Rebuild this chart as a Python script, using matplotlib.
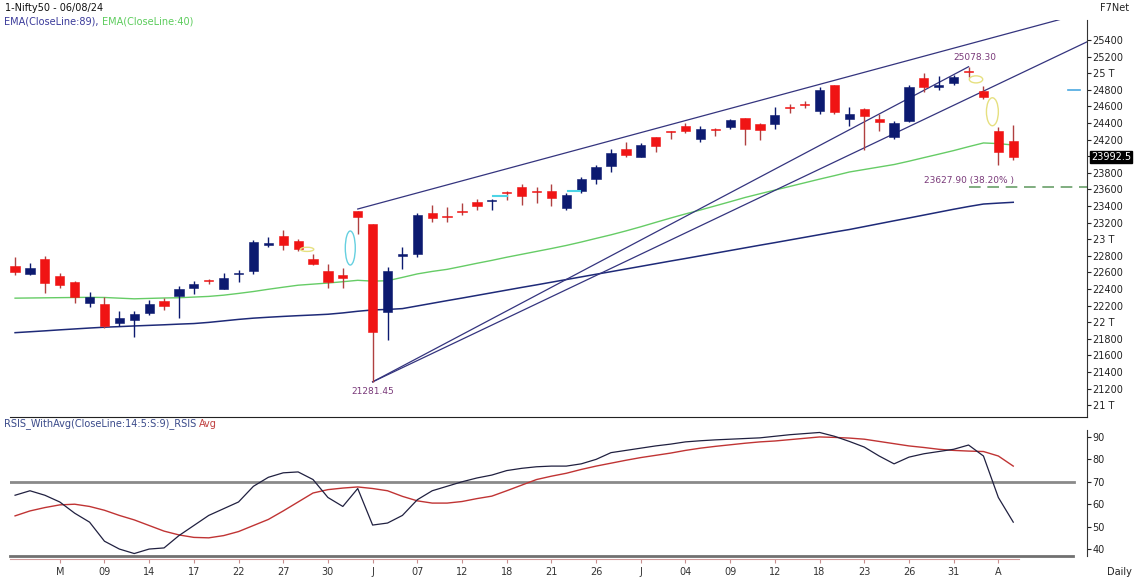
import numpy as np
import matplotlib.pyplot as plt
from matplotlib.patches import Ellipse

# ==========================================
# Data (Nifty50 daily, 30 Apr - 06 Aug 2024)
# ==========================================
opens = [22679, 22579, 22766, 22562, 22489, 22231, 22224, 21990, 22027, 22112,
         22255, 22319, 22415, 22512, 22404, 22576, 22614, 22931, 23039, 22977,
         22762, 22617, 22568, 23337, 23179, 22128, 22798, 22821, 23319, 23283,
         23344, 23453, 23460, 23573, 23629, 23570, 23584, 23382, 23577, 23724,
         23881, 24085, 23992, 24229, 24291, 24370, 24213, 24330, 24351, 24459,
         24388, 24388, 24590, 24616, 24543, 24853, 24446, 24568, 24445, 24231,
         24423, 24943, 24839, 24887, 25030, 24789, 24302, 24189]
highs = [22783, 22711, 22795, 22588, 22499, 22368, 22307, 22131, 22131, 22270,
         22297, 22432, 22502, 22526, 22591, 22629, 22993, 23026, 23110, 22998,
         22825, 22705, 22653, 23338, 23179, 22670, 22910, 23320, 23411, 23389,
         23441, 23481, 23490, 23579, 23664, 23624, 23667, 23558, 23754, 23889,
         24087, 24174, 24164, 24237, 24309, 24401, 24363, 24345, 24443, 24461,
         24402, 24592, 24635, 24661, 24837, 24854, 24595, 24582, 24504, 24426,
         24861, 24999, 24971, 24984, 25078.3, 24851, 24350, 24382]
lows = [22568, 22567, 22348, 22409, 22232, 22185, 21932, 21950, 21821, 22082,
        22151, 22054, 22345, 22462, 22404, 22483, 22577, 22908, 22871, 22858,
        22685, 22417, 22417, 23062, 21281.45, 21791, 22642, 22789, 23207, 23206,
        23295, 23354, 23357, 23473, 23413, 23442, 23398, 23350, 23562, 23670,
        23806, 23985, 23992, 24056, 24207, 24281, 24168, 24240, 24332, 24141,
        24193, 24331, 24523, 24587, 24504, 24508, 24362, 24074, 24307, 24211,
        24410, 24774, 24798, 24856, 24956, 24686, 23893, 23960]
closes = [22604, 22648, 22476, 22443, 22302, 22303, 21958, 22055, 22104, 22217,
          22201, 22403, 22466, 22502, 22529, 22597, 22967, 22957, 22932, 22888,
          22704, 22488, 22531, 23264, 21885, 22620, 22821, 23290, 23259, 23265,
          23323, 23399, 23466, 23558, 23516, 23567, 23501, 23537, 23721, 23868,
          24044, 24010, 24141, 24123, 24286, 24302, 24324, 24321, 24433, 24324,
          24316, 24502, 24587, 24613, 24801, 24531, 24509, 24479, 24413, 24406,
          24834, 24837, 24857, 24951, 25011, 24718, 24056, 23992.5]

ema40 = [22290, 22292, 22294, 22296, 22298, 22300, 22298, 22290, 22282, 22287,
         22292, 22295, 22303, 22311, 22326, 22347, 22370, 22397, 22422, 22446,
         22459, 22472, 22488, 22505, 22495, 22500, 22540, 22582, 22612, 22637,
         22673, 22710, 22745, 22783, 22818, 22853, 22888, 22925, 22966, 23010,
         23053, 23100, 23150, 23203, 23255, 23305, 23352, 23402, 23452, 23503,
         23548, 23592, 23636, 23680, 23724, 23766, 23810, 23840, 23870, 23900,
         23940, 23983, 24025, 24068, 24115, 24160, 24152, 24135]
ema89 = [21874, 21885, 21896, 21908, 21919, 21930, 21940, 21947, 21955, 21962,
         21969, 21977, 21984, 21998, 22016, 22034, 22049, 22060, 22070, 22079,
         22087, 22096, 22112, 22132, 22148, 22154, 22164, 22196, 22228, 22260,
         22291, 22323, 22355, 22387, 22419, 22450, 22482, 22514, 22546, 22578,
         22609, 22641, 22673, 22705, 22737, 22768, 22800, 22832, 22864, 22896,
         22928, 22959, 22991, 23023, 23055, 23087, 23117, 23152, 23187, 23222,
         23256, 23291, 23326, 23361, 23394, 23424, 23435, 23445]

rsi = [64, 66, 64, 61, 56, 52, 43.5, 40, 38, 40,
       40.5, 46, 50.5, 55, 58, 61, 68, 72, 74, 74.4,
       71, 63, 59, 67, 50.7, 51.6, 55, 62, 66, 68,
       70, 71.7, 73, 75, 76, 76.7, 77, 77, 78, 80,
       83, 84, 85, 86, 86.8, 87.8, 88.3, 88.7, 89, 89.3,
       89.6, 90.3, 91, 91.5, 92, 90.3, 88, 85.5, 81.5, 78,
       81, 82.5, 83.5, 84.5, 86.4, 81.5, 63, 52]
rsi_avg = [54.8, 57, 58.5, 59.7, 60, 59, 57.3, 55, 53, 50.5,
           48, 46.3, 45.2, 45, 46, 47.8, 50.5, 53.2, 57, 61,
           65, 66.5, 67.2, 67.7, 67, 66, 63.5, 61.5, 60.5, 60.5,
           61.2, 62.5, 63.6, 66, 68.5, 71, 72.5, 73.8, 75.5, 77,
           78.3, 79.6, 80.8, 81.8, 82.8, 84, 85, 85.8, 86.5, 87.2,
           87.8, 88.2, 88.8, 89.4, 90, 89.8, 89.5, 89, 88, 87,
           86, 85.3, 84.5, 84, 83.7, 83.5, 81.5, 77]

tick_idx = [3, 6, 9, 12, 15, 18, 21, 24, 27, 30, 33, 36, 39, 42, 45, 48, 51, 54, 57, 60, 63, 66]
tick_lbl = ['M', '09', '14', '17', '22', '27', '30', 'J', '07', '12', '18', '21',
            '26', 'J', '04', '09', '12', '18', '23', '26', '31', 'A']

# trend lines: (index, price) anchors
upper_line = [(23, 23364), (70, 25641)]
low_line_a = [(24, 21281.45), (64, 25078.3)]
low_line_b = [(24, 21281.45), (70.8, 25280)]
fib_level = 23627.90
last_price = 23992.5

# ==========================================
# Figure
# ==========================================
W, H = 1135, 579
fig = plt.figure(figsize=(W / 100, H / 100), dpi=100)
fig.patch.set_facecolor('white')

XMIN, XMAX = -0.34, 71.95
ax = fig.add_axes([10 / W, 1 - 417 / H, 1077 / W, (417 - 19.7) / H])
ax2 = fig.add_axes([10 / W, 1 - 556 / H, 1077 / W, 126 / H])

NAVY = '#0c1a70'
RED = '#f01414'
PURPLE = '#7a3a7a'

x = np.arange(len(closes))
o = np.array(opens)
c = np.array(closes)
up = c > o
body_col = [NAVY if u else RED for u in up]
wick_col = [NAVY if u else '#b04040' for u in up]

ax.vlines(x, lows, highs, colors=wick_col, lw=1, zorder=3)
ax.bar(x, np.maximum(np.abs(c - o), 12), bottom=np.minimum(o, c), width=0.62,
       color=body_col, edgecolor=body_col, lw=0.4, zorder=4)

ax.plot(x, ema40, color='#66cc66', lw=1, zorder=2)
ax.plot(x, ema89, color='#1e2a78', lw=1.1, zorder=2)

for line in (upper_line, low_line_a, low_line_b):
    (x0, y0), (x1, y1) = line
    slope = (y1 - y0) / (x1 - x0)
    xe = x1 if line is low_line_a else XMAX + 0.3
    ax.plot([x0, xe], [y0, y0 + slope * (xe - x0)], color='#34347e', lw=0.9, zorder=2)

ax.plot([64.0, XMAX], [fib_level, fib_level], color='#6aa06a', lw=1.2,
        dashes=(7, 4), zorder=2)

# markers / ellipses
ax.add_patch(Ellipse((22.5, 22894), 0.67, 410, fill=False, ec='#66d0e0', lw=1, zorder=5))
ax.add_patch(Ellipse((19.6, 22878), 0.9, 50, fill=False, ec='#e6e080', lw=1, zorder=5))
ax.add_patch(Ellipse((64.5, 24926), 0.9, 85, fill=False, ec='#e6e080', lw=1, zorder=5))
ax.add_patch(Ellipse((65.6, 24536), 0.8, 337, fill=False, ec='#e6e080', lw=1, zorder=5))
ax.plot([32.1, 33.0], [23524, 23524], color='#4dd4e6', lw=1.5, zorder=5)
ax.plot([37.1, 37.9], [23584, 23584], color='#4dd4e6', lw=1.5, zorder=5)
ax.plot([70.7, 71.5], [24800, 24800], color='#4aa8e0', lw=1.2, zorder=5)

ax.text(24, 21281.45 - 60, '21281.45', color=PURPLE, fontsize=6.5, ha='center', va='top')
ax.text(64.4, 25078.3 + 60, '25078.30', color=PURPLE, fontsize=6.5, ha='center', va='bottom')
ax.text(64.0, fib_level + 20, '23627.90 (38.20% )', color=PURPLE, fontsize=6.5,
        ha='center', va='bottom')

ax.set_xlim(XMIN, XMAX)
ax.set_ylim(20858, 25645)
ax.set_xticks([])
yt = list(range(21000, 25401, 200))
ylab = []
for v in yt:
    if v == 24000:
        ylab.append('')
    elif v % 1000 == 0:
        ylab.append(f'{v // 1000} T')
    else:
        ylab.append(str(v))
ax.set_yticks(yt)
ax.set_yticklabels(ylab)
ax.yaxis.tick_right()
ax.tick_params(axis='y', direction='out', length=3, width=0.8, pad=1,
               labelsize=7, colors='#222222')
for s in ('top', 'left'):
    ax.spines[s].set_visible(False)
ax.spines['right'].set_color('#333333')
ax.spines['bottom'].set_color('#222222')

ax.text(1.0035, last_price, '23992.5', transform=ax.get_yaxis_transform(), color='white',
        fontsize=7, va='center', ha='left', clip_on=False,
        bbox=dict(boxstyle='square,pad=0.12', fc='black', ec='black'))

# ==========================================
# RSI panel
# ==========================================
ax2.plot([XMIN, 71.1], [70, 70], color='#8a8a8a', lw=2, zorder=1)
ax2.plot(x, rsi_avg, color='#c03434', lw=1, zorder=2)
ax2.plot(x, rsi, color='#202040', lw=0.9, zorder=3)
ax2.set_xlim(XMIN, XMAX)
ax2.set_ylim(36.9, 93.1)
ax2.plot([XMIN, 71.0], [36.9, 36.9], color='#707070', lw=2, clip_on=False)

ax2.set_yticks(range(40, 91, 10))
ax2.yaxis.tick_right()
ax2.tick_params(axis='y', direction='out', length=3, width=0.8, pad=1,
                labelsize=7, colors='#222222')
ax2.set_xticks(tick_idx)
ax2.set_xticklabels(tick_lbl)
ax2.tick_params(axis='x', direction='out', length=3, width=0.8, pad=3,
                labelsize=7, color='#c89090', labelcolor='#333333')
for s in ('top', 'left'):
    ax2.spines[s].set_visible(False)
ax2.spines['right'].set_color('#333333')
ax2.spines['bottom'].set_color('#d09a9a')
ax2.spines['bottom'].set_position(('outward', 2.2))
ax2.spines['bottom'].set_bounds(XMIN, 67.4)

# ==========================================
# Header texts
# ==========================================
fig.text(5 / W, 1 - 8 / H, '1-Nifty50 - 06/08/24', fontsize=7, color='#111111', va='center')
fig.text(1100 / W, 1 - 8 / H, 'F7Net', fontsize=7, color='#222222', va='center')
fig.text(1107 / W, 1 - 572 / H, 'Daily', fontsize=7, color='#222222', va='center')

renderer = fig.canvas.get_renderer()


def two_part(xp, yp, s1, c1, s2, c2):
    t1 = fig.text(xp / W, 1 - yp / H, s1, fontsize=7, color=c1, va='center')
    bb = t1.get_window_extent(renderer=renderer)
    fig.text(bb.x1 / W, 1 - yp / H, s2, fontsize=7, color=c2, va='center')


two_part(4, 21, 'EMA(CloseLine:89), ', '#3a3a9a', 'EMA(CloseLine:40)', '#5ccc5c')
two_part(4, 424, 'RSIS_WithAvg(CloseLine:14:5:S:9)_RSIS ', '#3a4a8a', 'Avg', '#c04040')

fig.savefig('out.png', dpi=100)
